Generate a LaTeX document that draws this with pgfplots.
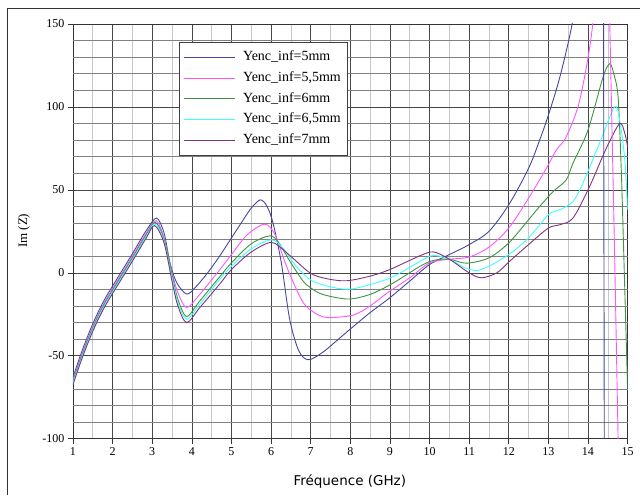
\documentclass[border=0pt]{standalone}
\usepackage{fontspec}
\setmainfont{Liberation Serif}
\newfontfamily\labfont{DejaVu Sans}
\usepackage{pgfplots}
\pgfplotsset{compat=1.18}
\definecolor{cA}{RGB}{70,70,160}
\definecolor{cB}{RGB}{255,85,255}
\definecolor{cC}{RGB}{60,150,60}
\definecolor{cD}{RGB}{60,255,255}
\definecolor{cE}{RGB}{130,50,130}
\begin{document}
\begin{tikzpicture}[x=1pt,y=1pt]
\path (0,0) rectangle (640,495);
\draw[black!80,line width=0.8pt] (7,0) -- (7,487) -- (640,487);
\begin{axis}[
  at={(73pt,56pt)}, anchor=south west,
  scale only axis, width=555pt, height=415pt,
  xmin=1, xmax=15, ymin=-100, ymax=150,
  xtick={1,...,15},
  xticklabels={1,2,3,4,5,6,7,8,9,10,11,12,13,14,15},
  ytick={-100,-50,0,50,100,150},
  yticklabels={-100,-50,0,50,100,150},
  minor x tick num=1,
  grid=both,
  major grid style={black!72,line width=0.6pt},
  minor grid style={black!22,line width=0.6pt},
  extra y ticks={-90,-80,-70,-60,-40,-30,-20,-10,10,20,30,40,60,70,80,90,110,120,130,140},
  extra y tick labels={},
  extra y tick style={grid=major, major grid style={black!50,line width=0.6pt}, tick style={draw=none}},
  axis line style={black!80,line width=0.8pt},
  tick align=outside,
  major tick length=5pt, minor tick length=0pt,
  tick style={black!80,line width=0.6pt},
  xtick pos=bottom, ytick pos=left,
  ticklabel style={font=\fontsize{12}{14}\selectfont},
  clip=true,
  legend style={at={(0.191,0.9566)}, anchor=north west, draw=black!75, fill=white,
    line width=0.6pt, inner xsep=4pt, inner ysep=6.5pt, row sep=3.7pt,
    nodes={text height=10pt, text depth=3pt, inner ysep=2pt},
    /tikz/every odd column/.append style={column sep=6pt},
    font=\fontsize{14}{16}\selectfont},
  legend cell align=left,
  legend image code/.code={\draw[#1,line width=0.9pt] (0pt,0pt) -- (51pt,0pt);},
  every axis plot/.append style={line width=0.9pt},
]
% Yenc_inf = 5 mm
\addplot[cA, smooth, tension=0.5] coordinates {
(1,-63)(1.2,-49)(1.4,-36.5)(1.6,-25.5)(1.8,-16)(2,-8)(2.5,11.5)(2.85,25.5)(3.11,33)(3.3,24)(3.45,6)(3.62,-6)(3.87,-12.8)(4.1,-8.5)(4.4,0)(4.7,10)(5,21)(5.3,32)(5.5,39)(5.73,44)(5.9,40)(6.05,30)(6.26,6)(6.47,-28)(6.7,-47)(6.94,-52.4)(7.3,-48)(7.7,-40)(8.07,-32.5)(8.5,-24)(9,-15)(9.5,-5)(10,5)(10.5,11)(11,17)(11.5,25)(12,41)(12.5,63)(12.78,80)(13,95)(13.29,118)(13.6,150)(13.9,195)(14.2,260)};
\addlegendentry{Yenc\_inf=5mm}
% Yenc_inf = 5,5 mm
\addplot[cB, smooth, tension=0.5] coordinates {
(1,-64.5)(1.2,-50.5)(1.4,-38)(1.6,-27)(1.8,-17.5)(2,-9.5)(2.5,10)(2.85,24)(3.1,31.5)(3.3,21)(3.47,3)(3.65,-12)(3.87,-20.9)(4.2,-13)(4.71,2)(5,11)(5.4,23)(5.84,29.3)(6.1,23)(6.39,4)(6.7,-13)(6.89,-20.3)(7.2,-25.5)(7.48,-27)(8.07,-25.5)(8.5,-20)(8.91,-12.5)(9.5,-3)(10,6)(10.5,8.2)(11,9.5)(11.5,15.5)(12,27)(12.5,45)(12.95,63)(13.2,74)(13.45,82)(13.79,104)(14.12,150)(14.3,220)};
\addlegendentry{Yenc\_inf=5,5mm}
% Yenc_inf = 6 mm
\addplot[cC, smooth, tension=0.5] coordinates {
(1,-65.5)(1.2,-51.5)(1.4,-39)(1.6,-28)(1.8,-18.5)(2,-10.5)(2.5,9)(2.85,23)(3.08,30.5)(3.3,20)(3.5,-1)(3.65,-16)(3.87,-26.3)(4.2,-17)(4.71,-2.2)(5,6)(5.5,17.5)(5.97,22.3)(6.2,18)(6.5,6)(6.81,-5)(7,-9)(7.3,-13)(7.94,-15.8)(8.5,-13)(9.08,-6.2)(9.75,3.8)(10.1,7.5)(10.5,8.2)(10.93,5.8)(11.5,9)(12,18)(12.5,32)(12.78,40)(13.12,49)(13.45,56)(13.62,66)(14,86)(14.38,118)(14.55,126)(14.65,120)(14.76,106)(14.84,62)(14.9,14)(15,-70)};
\addlegendentry{Yenc\_inf=6mm}
% Yenc_inf = 6,5 mm
\addplot[cD, smooth, tension=0.5] coordinates {
(1,-66.5)(1.2,-52.5)(1.4,-40)(1.6,-29)(1.8,-19.5)(2,-11.5)(2.5,8)(2.85,22)(3.07,29.5)(3.3,19)(3.5,-3)(3.65,-18)(3.87,-28)(4.2,-19)(4.71,-3.8)(5,4)(5.5,14.5)(6.01,19.9)(6.3,15)(6.6,5)(6.98,-4)(7.5,-8.5)(8.07,-9.6)(9,-3.2)(9.75,6.8)(10.1,10.5)(10.5,8.2)(10.9,3)(11.19,1.4)(11.5,4)(12,11)(12.5,21)(13,35)(13.29,38)(13.62,43)(13.87,54)(14.29,78)(14.67,100)(14.8,92)(14.93,68)(15,38)};
\addlegendentry{Yenc\_inf=6,5mm}
% Yenc_inf = 7 mm
\addplot[cE, smooth, tension=0.5] coordinates {
(1,-67.5)(1.2,-53.5)(1.4,-41)(1.6,-30)(1.8,-20.5)(2,-12.5)(2.5,7)(2.85,21)(3.06,28.5)(3.3,18)(3.5,-5)(3.65,-20)(3.87,-30)(4.2,-21)(4.71,-6.6)(5,2)(5.5,12.5)(6.01,18.3)(6.4,12)(6.98,0)(7.4,-3.5)(7.9,-4.8)(8.5,-2)(9,2)(9.75,10.2)(10.1,12.6)(10.5,8.2)(11,0)(11.31,-3)(11.7,0)(12,6.5)(12.5,17)(13,27)(13.29,29)(13.62,33)(14.04,52)(14.46,75)(14.8,90)(14.93,84)(15,76)};
\addlegendentry{Yenc\_inf=7mm}
% resonance branches (straight segments)
\addplot[cA, forget plot] coordinates {(14.2,260)(14.375,400)(14.425,-300)(14.6,-400)};
\addplot[cB, forget plot] coordinates {(14.3,220)(14.5,290)(14.55,150)(14.67,14)(14.76,-100)(14.8,-150)};
\end{axis}
\node[rotate=90, font=\fontsize{13}{15}\selectfont] at (24,264) {Im (Z)};
\node[font=\labfont\fontsize{13.5}{16}\selectfont] at (350,13) {Fréquence (GHz)};
\end{tikzpicture}
\end{document}
